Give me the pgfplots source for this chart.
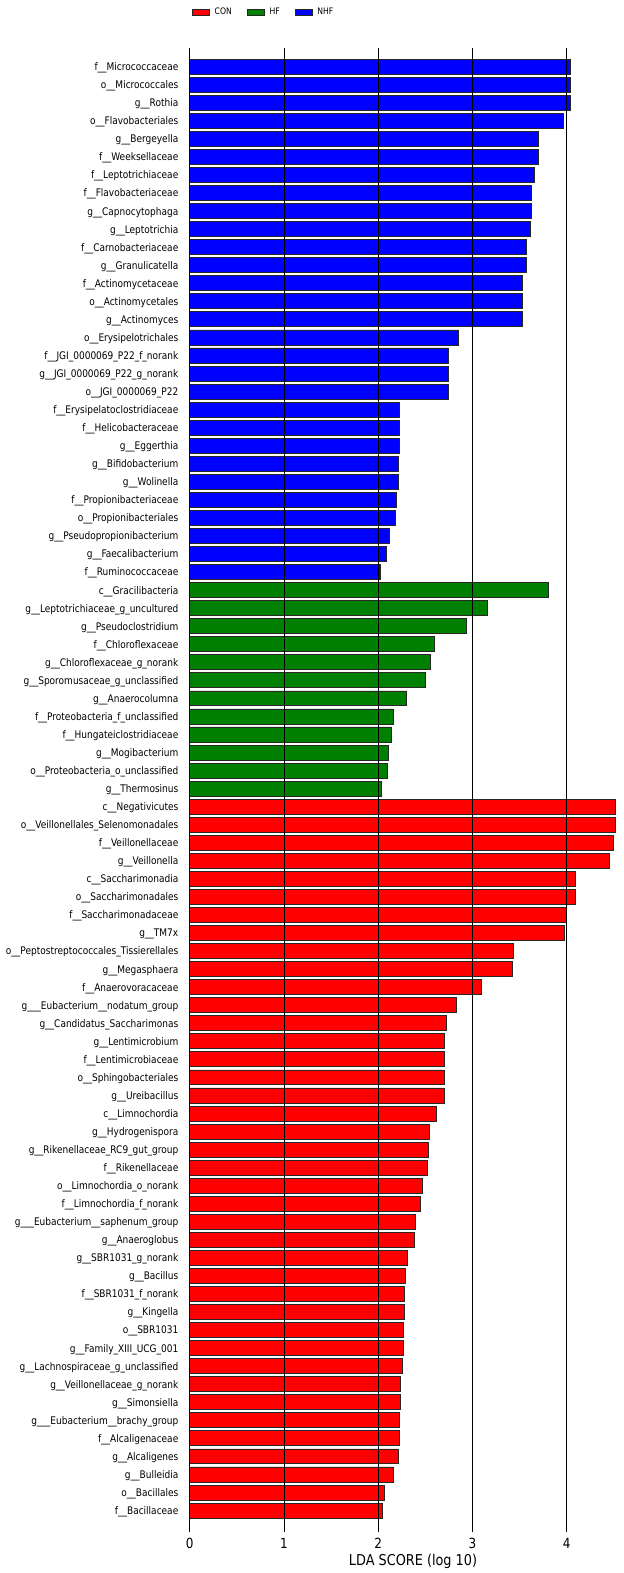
\documentclass[border=0pt]{standalone}
\usepackage{fontspec}
\setmainfont{DejaVu Sans}[FakeStretch=0.86]
\usepackage{pgfplots}
\pgfplotsset{compat=1.18}
\definecolor{conred}{RGB}{255,0,0}
\definecolor{hfgreen}{RGB}{0,128,0}
\definecolor{nhfblue}{RGB}{0,0,255}
\pgfplotsset{
  ldabar/.style={xbar, bar width=0.83, bar shift=0pt, draw=black!85, line width=0.8bp,
    legend image code/.code={\draw[##1, line width=0.6bp] (0bp,-3bp) rectangle (17bp,3bp);}},
}
\begin{document}
\begin{tikzpicture}
\useasboundingbox (0,0) rectangle (624bp,1573bp);
\begin{axis}[
  scale only axis,
  width=426bp, height=1484bp,
  anchor=south west, at={(189.8bp,41bp)},
  xmin=0, xmax=4.52,
  ymin=-1.036, ymax=81.19,
  y dir=reverse,
  axis line style={draw=none},
  major tick length=0pt,
  xtick={0,1,2,3,4},
  xticklabels={0,1,2,3,4},
  /pgf/number format/assume math mode=true,
  xmajorgrids,
  grid style={black, line width=1bp},
  axis on top,
  xticklabel style={font=\fontsize{14}{16}\selectfont, anchor=center, yshift=-11bp},
  ytick={0,...,80},
  yticklabel style={font=\fontsize{10.5}{12}\selectfont, anchor=east, xshift=-8bp, text height=7.8bp, text depth=0bp},
  yticklabels={
    f\_\_Micrococcaceae,
    o\_\_Micrococcales,
    g\_\_Rothia,
    o\_\_Flavobacteriales,
    g\_\_Bergeyella,
    f\_\_Weeksellaceae,
    f\_\_Leptotrichiaceae,
    f\_\_Flavobacteriaceae,
    g\_\_Capnocytophaga,
    g\_\_Leptotrichia,
    f\_\_Carnobacteriaceae,
    g\_\_Granulicatella,
    f\_\_Actinomycetaceae,
    o\_\_Actinomycetales,
    g\_\_Actinomyces,
    o\_\_Erysipelotrichales,
    f\_\_JGI\_0000069\_P22\_f\_norank,
    g\_\_JGI\_0000069\_P22\_g\_norank,
    o\_\_JGI\_0000069\_P22,
    f\_\_Erysipelatoclostridiaceae,
    f\_\_Helicobacteraceae,
    g\_\_Eggerthia,
    g\_\_Bifidobacterium,
    g\_\_Wolinella,
    f\_\_Propionibacteriaceae,
    o\_\_Propionibacteriales,
    g\_\_Pseudopropionibacterium,
    g\_\_Faecalibacterium,
    f\_\_Ruminococcaceae,
    c\_\_Gracilibacteria,
    g\_\_Leptotrichiaceae\_g\_uncultured,
    g\_\_Pseudoclostridium,
    f\_\_Chloroflexaceae,
    g\_\_Chloroflexaceae\_g\_norank,
    g\_\_Sporomusaceae\_g\_unclassified,
    g\_\_Anaerocolumna,
    f\_\_Proteobacteria\_f\_unclassified,
    f\_\_Hungateiclostridiaceae,
    g\_\_Mogibacterium,
    o\_\_Proteobacteria\_o\_unclassified,
    g\_\_Thermosinus,
    c\_\_Negativicutes,
    o\_\_Veillonellales\_Selenomonadales,
    f\_\_Veillonellaceae,
    g\_\_Veillonella,
    c\_\_Saccharimonadia,
    o\_\_Saccharimonadales,
    f\_\_Saccharimonadaceae,
    g\_\_TM7x,
    o\_\_Peptostreptococcales\_Tissierellales,
    g\_\_Megasphaera,
    f\_\_Anaerovoracaceae,
    g\_\_\_Eubacterium\_\_nodatum\_group,
    g\_\_Candidatus\_Saccharimonas,
    g\_\_Lentimicrobium,
    f\_\_Lentimicrobiaceae,
    o\_\_Sphingobacteriales,
    g\_\_Ureibacillus,
    c\_\_Limnochordia,
    g\_\_Hydrogenispora,
    g\_\_Rikenellaceae\_RC9\_gut\_group,
    f\_\_Rikenellaceae,
    o\_\_Limnochordia\_o\_norank,
    f\_\_Limnochordia\_f\_norank,
    g\_\_\_Eubacterium\_\_saphenum\_group,
    g\_\_Anaeroglobus,
    g\_\_SBR1031\_g\_norank,
    g\_\_Bacillus,
    f\_\_SBR1031\_f\_norank,
    g\_\_Kingella,
    o\_\_SBR1031,
    g\_\_Family\_XIII\_UCG\_001,
    g\_\_Lachnospiraceae\_g\_unclassified,
    g\_\_Veillonellaceae\_g\_norank,
    g\_\_Simonsiella,
    g\_\_\_Eubacterium\_\_brachy\_group,
    f\_\_Alcaligenaceae,
    g\_\_Alcaligenes,
    g\_\_Bulleidia,
    o\_\_Bacillales,
    f\_\_Bacillaceae
  },
  every axis x label/.style={at={(axis description cs:0.524,0)}, anchor=center, yshift=-29bp, font=\fontsize{15}{17}\selectfont},
  xlabel={LDA SCORE (log 10)},
  legend columns=3,
  legend style={draw=none, fill=none, at={(axis description cs:0.005,1.0283)}, anchor=north west,
    font=\fontsize{9}{10}\selectfont, inner sep=0pt,
    /tikz/every odd column/.append style={column sep=3bp},
    /tikz/every even column/.append style={column sep=13bp}},
]
\addplot[ldabar, fill=conred] coordinates {
(4.52,41) (4.52,42) (4.49,43) (4.45,44) (4.09,45) (4.09,46) (4.00,47) (3.97,48)
(3.43,49) (3.42,50) (3.09,51) (2.83,52) (2.72,53) (2.70,54) (2.70,55) (2.70,56)
(2.70,57) (2.62,58) (2.545,59) (2.535,60) (2.52,61) (2.47,62) (2.45,63) (2.39,64)
(2.38,65) (2.31,66) (2.29,67) (2.28,68) (2.28,69) (2.27,70) (2.27,71) (2.255,72)
(2.235,73) (2.23,74) (2.22,75) (2.22,76) (2.21,77) (2.16,78) (2.07,79) (2.04,80)
};
\addlegendentry{CON}
\addplot[ldabar, fill=hfgreen] coordinates {
(3.80,29) (3.16,30) (2.93,31) (2.59,32) (2.55,33) (2.50,34) (2.30,35) (2.16,36)
(2.14,37) (2.11,38) (2.10,39) (2.03,40)
};
\addlegendentry{HF}
\addplot[ldabar, fill=nhfblue] coordinates {
(4.04,0) (4.04,1) (4.04,2) (3.96,3) (3.70,4) (3.70,5) (3.66,6) (3.62,7)
(3.62,8) (3.61,9) (3.57,10) (3.57,11) (3.53,12) (3.53,13) (3.53,14) (2.85,15)
(2.74,16) (2.74,17) (2.74,18) (2.22,19) (2.22,20) (2.22,21) (2.21,22) (2.21,23)
(2.195,24) (2.18,25) (2.12,26) (2.09,27) (2.02,28)
};
\addlegendentry{NHF}
\end{axis}
\end{tikzpicture}
\end{document}
